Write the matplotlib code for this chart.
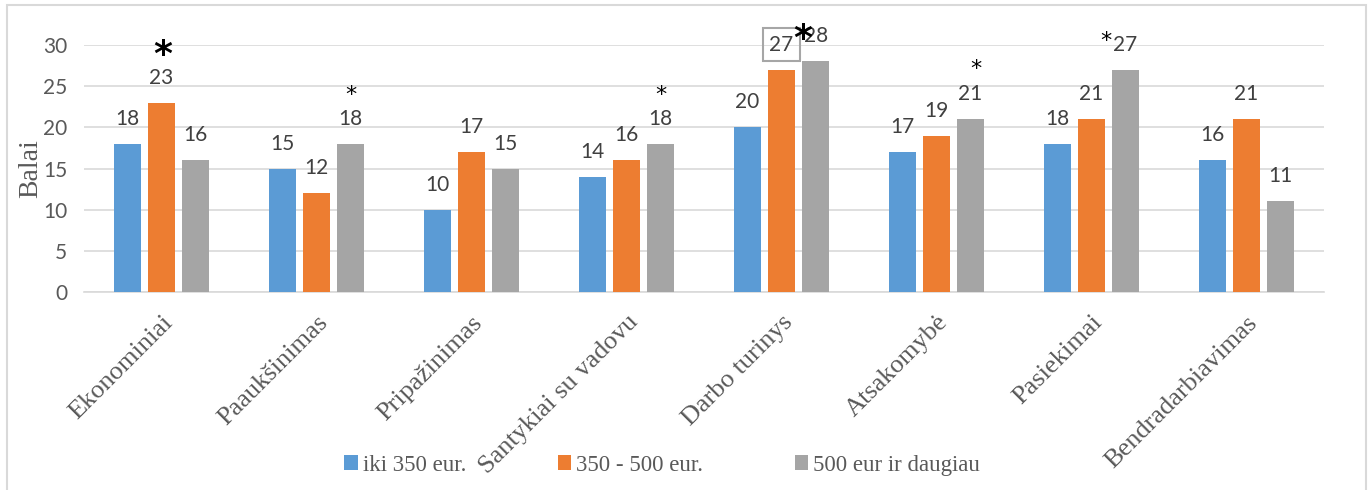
import numpy as np
import matplotlib.pyplot as plt
from matplotlib.patches import Rectangle

categories = ["Ekonominiai", "Paaukšinimas", "Pripažinimas", "Santykiai su vadovu",
              "Darbo turinys", "Atsakomybė", "Pasiekimai", "Bendradarbiavimas"]
series_names = ["iki 350 eur.", "350 - 500 eur.", "500 eur ir daugiau"]
low = [18, 15, 10, 14, 20, 17, 18, 16]
mid = [23, 12, 17, 16, 27, 19, 21, 21]
high = [16, 18, 15, 18, 28, 21, 27, 11]
colors = ["#5B9BD5", "#ED7D31", "#A5A5A5"]

# (category index, series index, size, bold, dx, dy in points)
stars = [(0, 1, 26, True, 1, 34), (1, 2, 16, False, 0, 35), (3, 2, 16, False, 0, 35),
         (4, 2, 26, True, -9, 16), (5, 2, 16, False, 4, 36), (6, 2, 16, False, -14, 21)]

serif = "Liberation Serif"
sans = "Lato"
txt = "#595959"

fig = plt.figure(figsize=(13.68, 4.9), dpi=100)
ax = fig.add_axes([84 / 1368, 1 - 292 / 490, (1324 - 84) / 1368, (292 - 45) / 490])

x = np.arange(len(categories))
w = 0.175
offs = [-0.22, 0, 0.22]
data = [low, mid, high]
for i, vals in enumerate(data):
    ax.bar(x + offs[i], vals, w, color=colors[i], label=series_names[i], zorder=3)
    for j, v in enumerate(vals):
        ax.annotate(str(v), (x[j] + offs[i], v), xytext=(0, 18), textcoords="offset points",
                    ha="center", va="center", fontsize=15, color="#404040", family=sans)

# box around the 27 label in Darbo turinys
ax.annotate("27", (x[4] + offs[1], mid[4]), xytext=(0, 18), textcoords="offset points",
            ha="center", va="center", fontsize=15, color=(0, 0, 0, 0), family=sans,
            bbox=dict(boxstyle="square,pad=0.3", fc="none", ec="#A6A6A6", lw=1.5))

for ci, si, sz, bold, dx, dy in stars:
    v = data[si][ci]
    ax.annotate("*", (x[ci] + offs[si], v), xytext=(dx, dy), textcoords="offset points",
                ha="center", va="center", fontsize=sz, color="black", family="DejaVu Sans",
                fontweight="bold" if bold else "normal")

ax.set_ylim(0, 30)
ax.set_xlim(-0.5, len(categories) - 0.5)
ax.set_yticks(np.arange(0, 31, 5))
ax.yaxis.grid(True, color="#D9D9D9", lw=1.2, zorder=0)
for s in ["top", "right", "left"]:
    ax.spines[s].set_visible(False)
ax.spines["bottom"].set_color("#D9D9D9")
ax.spines["bottom"].set_linewidth(1.2)
ax.tick_params(axis="both", length=0)
ax.tick_params(axis="y", labelsize=15, labelcolor=txt, pad=12)
for t in ax.get_yticklabels():
    t.set_family(sans)
ax.set_xticks(x)
ax.set_xticklabels(categories, rotation=45, ha="right", rotation_mode="anchor",
                   family=serif, fontsize=19, color=txt)
ax.tick_params(axis="x", pad=14)
ax.set_ylabel("Balai", family=serif, fontsize=20, color=txt, labelpad=0)

fig.legend(loc="center", bbox_to_anchor=(662 / 1368, 1 - 465 / 490), ncol=3, frameon=False,
           prop={"family": serif, "size": 16.5}, labelcolor=txt, handlelength=0.6,
           handleheight=0.6, handletextpad=0.2, columnspacing=4.0)

fig.patches.append(Rectangle((7 / 1368, -0.05), (1366 - 7) / 1368, 1.05 - 5 / 490,
                             transform=fig.transFigure, fill=False, ec="#D9D9D9", lw=1.5))

fig.savefig("out.png", dpi=100)
